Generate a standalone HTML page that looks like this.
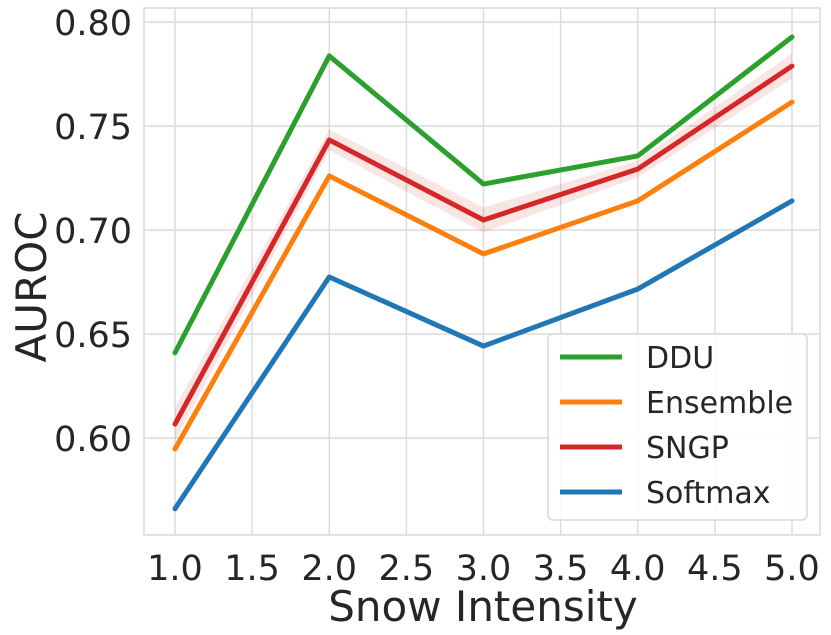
<!DOCTYPE html>
<html><head><meta charset="utf-8"><style>
body{margin:0;background:#fff;}
svg{display:block;font-family:"DejaVu Sans","Liberation Sans",sans-serif;}
</style></head><body>
<svg id="chart" width="831" height="635"></svg>
<script>
const categories=[1,2,3,4,5];
const seriesNames=["DDU","Ensemble","SNGP","Softmax"];
const ddu=[0.641,0.7837,0.7221,0.7356,0.7928];
const ensemble=[0.5947,0.726,0.6885,0.714,0.7615];
const sngp=[0.6067,0.7433,0.7048,0.7293,0.7788];
const softmax=[0.566,0.6774,0.6442,0.6716,0.714];
const sngpBand=[0.008,0.005,0.006,0.004,0.006];
const xTicks=["1.0","1.5","2.0","2.5","3.0","3.5","4.0","4.5","5.0"];
const yTicks=["0.60","0.65","0.70","0.75","0.80"];
const colors=["#2ca02c","#ff7f0e","#d62728","#1f77b4"];
const NS="http://www.w3.org/2000/svg";
const svg=document.getElementById('chart');
const L=144,R=820,T=8,B=535;
const X=v=>175+(v-1)*(792-175)/4;
const Y=v=>438-(v-0.6)*2080;
function mk(t,a){const e=document.createElementNS(NS,t);for(const k in a)e.setAttribute(k,a[k]);svg.appendChild(e);return e;}
const frame=mk('rect',{x:L,y:T,width:R-L,height:B-T,fill:'none',stroke:'#d9d9d9','stroke-width':1.5});


xTicks.forEach(t=>{const v=parseFloat(t);
 const g=mk('line',{x1:X(v),x2:X(v),y1:T,y2:B,stroke:'#dcdcdc','stroke-width':1.5});
 
 
 const tx=mk('text',{x:X(v),y:580,'font-size':35,'text-anchor':'middle',fill:'#262626'});tx.textContent=t;
 
 
});
yTicks.forEach(t=>{const v=parseFloat(t);
 const g=mk('line',{x1:L,x2:R,y1:Y(v),y2:Y(v),stroke:'#dcdcdc','stroke-width':1.5});
 
 
 const tx=mk('text',{x:132,y:Y(v)+13,'font-size':35,'text-anchor':'end',fill:'#262626'});tx.textContent=t;
 
 
});
const xl=mk('text',{x:483,y:621,'font-size':42,'text-anchor':'middle',fill:'#262626'});xl.textContent='Snow Intensity';


const yl=mk('text',{x:0,y:0,'font-size':42,'text-anchor':'middle',fill:'#262626',transform:'translate(46,287) rotate(-90)'});yl.textContent='AUROC';


let up=categories.map((c,i)=>X(c)+','+Y(sngp[i]+sngpBand[i]));
let dn=categories.map((c,i)=>X(c)+','+Y(sngp[i]-sngpBand[i])).reverse();
const band=mk('polygon',{points:up.concat(dn).join(' '),fill:'#d62728','fill-opacity':0.12});


[ddu,ensemble,sngp,softmax].forEach((s,k)=>{
 const p=mk('polyline',{points:categories.map((c,i)=>X(c)+','+Y(s[i])).join(' '),fill:'none',stroke:colors[k],'stroke-width':5,'stroke-linecap':'round','stroke-linejoin':'round'});
 
 
});
const lg=mk('rect',{x:548,y:334,width:259,height:186,rx:5,fill:'#fff','fill-opacity':0.85,stroke:'#d9d9d9','stroke-width':1.5});


seriesNames.forEach((n,k)=>{const y=357+k*45;
 const l=mk('line',{x1:560,x2:622,y1:y,y2:y,stroke:colors[k],'stroke-width':5});
 
 
 const t=mk('text',{x:646,y:y+11,'font-size':30,fill:'#262626'});t.textContent=n;
 
 
});
</script>
</body></html>
